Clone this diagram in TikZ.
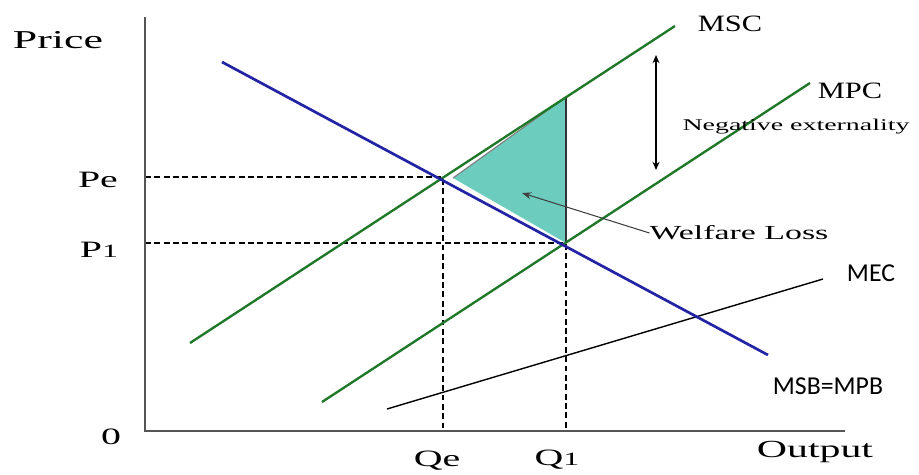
\documentclass[tikz,border=0pt]{standalone}
\usepackage{fontspec}
\newfontfamily\serifwide{Liberation Serif}[FakeStretch=1.7]
\newfontfamily\serifmid{Liberation Serif}[FakeStretch=1.3]
\newfontfamily\labsans{Carlito}
\definecolor{ecoBlue}{RGB}{35,35,165}
\definecolor{ecoGreen}{RGB}{30,120,40}
\definecolor{ecoTeal}{RGB}{108,205,190}
\definecolor{ecoAxis}{RGB}{85,85,85}
\usetikzlibrary{arrows.meta}

\begin{document}
\begin{tikzpicture}[
    x=0.03cm, y=-0.03cm,
    axis/.style={ecoAxis, line width=1.7pt},
    demand/.style={ecoBlue, line width=2.3pt},
    supply/.style={ecoGreen, line width=2pt},
    extcost/.style={black, line width=1.2pt},
    guide/.style={black, dashed, dash pattern=on 5pt off 3pt, line width=1pt},
    lab/.style={inner sep=0pt, font=\serifwide\fontsize{20}{20}\selectfont},
    curvelab/.style={inner sep=0pt, font=\serifmid\fontsize{20}{20}\selectfont},
    sanslab/.style={inner sep=0pt, font=\labsans\fontsize{22}{22}\selectfont},
    gap/.style={{Stealth[length=7pt,width=6pt]}-{Stealth[length=7pt,width=6pt]}, black, line width=1.2pt},
    pointer/.style={-{Stealth[length=8pt,width=6pt]}, black!75, line width=0.9pt}
  ]
  \useasboundingbox (0,0) rectangle (919,475);

  % axes
  \coordinate (top)    at (145,17);
  \coordinate (origin) at (145,431);
  \coordinate (right)  at (845,431);

  % curve ends
  \coordinate (dem0) at (222,62);
  \coordinate (dem1) at (768,355);
  \coordinate (msc0) at (190,343);
  \coordinate (msc1) at (675,26);
  \coordinate (mpc0) at (322,402);
  \coordinate (mpc1) at (810,83);
  \coordinate (mec0) at (387,409);
  \coordinate (mec1) at (823,279);

  % equilibrium points
  \coordinate (eqe) at (443,177);
  \coordinate (eq1) at (566,243);
  \coordinate (pe)  at (145,177);
  \coordinate (p1)  at (145,243);
  \coordinate (qe)  at (443,431);
  \coordinate (q1)  at (566,431);

  % welfare loss triangle
  \coordinate (tri0) at (453,178);
  \coordinate (tri1) at (566,97);
  \fill[ecoTeal] (tri0) -- (tri1) -- (eq1) -- cycle;
  \draw[gray, line width=1pt] (tri0) -- (tri1);
  \draw[black!80, line width=1.2pt] (tri1) -- (eq1);

  \draw[guide] (pe) -- (eqe) -- (qe);
  \draw[guide] (p1) -- (eq1) -- (q1);

  \draw[axis] (top) -- (origin) -- (right);

  \draw[extcost] (mec0) -- (mec1);
  \draw[supply] (msc0) -- (msc1);
  \draw[supply] (mpc0) -- (mpc1);
  \draw[demand] (dem0) -- (dem1);

  % labels
  \node[lab, font=\serifwide\fontsize{22}{22}\selectfont] (price) at (58,40) {Price};
  \node[lab] (lpe)  at (98,180)  {Pe};
  \node[lab] (lp1)  at (99,250)  {P{\fontsize{16}{16}\selectfont 1}};
  \node[lab] (zero) at (111,437) {0};
  \node[lab] (lqe)  at (437,461) {Qe};
  \node[lab] (lq1)  at (557,460) {Q{\fontsize{16}{16}\selectfont 1}};
  \node[lab, font=\serifwide\fontsize{21}{21}\selectfont] (out) at (815,452) {Output};
  \node[curvelab] (lmsc) at (730,24) {MSC};
  \node[curvelab] (lmpc) at (850,91) {MPC};
  \node[lab, font=\serifwide\fontsize{14}{14}\selectfont] (negext) at (796,127) {Negative externality};
  \node[lab, font=\serifwide\fontsize{17}{17}\selectfont] (wl) at (739,233) {Welfare Loss};
  \node[sanslab] (lmec) at (871,273) {MEC};
  \node[sanslab] (lmsb) at (828,386) {MSB=MPB};

  % arrows
  \coordinate (gaptop) at (656,55);
  \coordinate (gapbot) at (656,170);
  \coordinate (wltip)  at (522,193);
  \draw[gap] (gaptop) -- (gapbot);
  \draw[pointer] (wl.west) -- (wltip);
\end{tikzpicture}
\end{document}
